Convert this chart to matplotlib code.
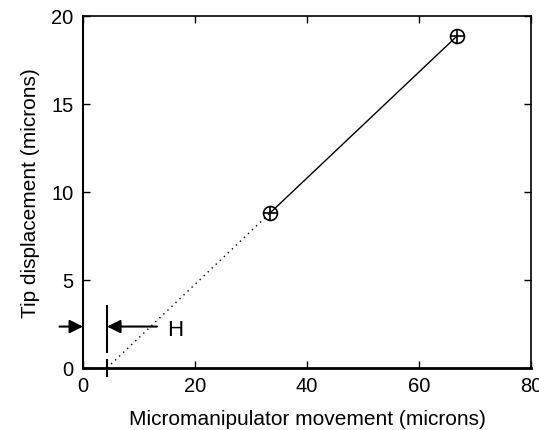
import matplotlib
matplotlib.use('Agg')
import matplotlib.pyplot as plt

plt.rcParams['font.family'] = ['Liberation Sans', 'DejaVu Sans']

# measured points (microns)
move = [33.4, 66.8]
tip = [8.8, 18.85]
# extrapolation back to zero tip displacement
x_zero = 4.3
h_level = 2.35

fig = plt.figure(figsize=(5.39, 4.31), dpi=100)
ax = fig.add_axes([0.154, 0.144, 0.831, 0.817])

ax.plot([x_zero, move[0]], [0, tip[0]], color='black', linestyle=(0, (1, 3)), linewidth=1)
ax.plot(move, tip, color='black', linewidth=1)
ax.plot(move, tip, 'o', markersize=10, markerfacecolor='none', markeredgecolor='black', markeredgewidth=1.2)
ax.plot(move, tip, '+', markersize=10, color='black', markeredgewidth=1.2)

# H marker
ax.plot([x_zero, x_zero], [0.9, 3.5], color='black', linewidth=1.5)
ax.plot([x_zero, x_zero], [-0.45, 0.45], color='black', linewidth=1.5, clip_on=False)
ax.annotate('', xy=(0, h_level), xytext=(-4.2, h_level), annotation_clip=False,
            arrowprops=dict(arrowstyle='-|>', color='black', lw=1.5, mutation_scale=20, shrinkA=0, shrinkB=0))
ax.annotate('', xy=(x_zero, h_level), xytext=(13.2, h_level), annotation_clip=False,
            arrowprops=dict(arrowstyle='-|>', color='black', lw=1.5, mutation_scale=20, shrinkA=0, shrinkB=0))
ax.text(15.0, h_level - 0.15, 'H', fontsize=16, va='center', ha='left')

ax.set_xlim(0, 80)
ax.set_ylim(0, 20)
ax.set_xticks([0, 20, 40, 60, 80])
ax.set_yticks([0, 5, 10, 15, 20])
ax.tick_params(direction='in', top=True, right=True, labelsize=14.5, length=5, width=1)
ax.tick_params(axis='x', pad=6)
ax.tick_params(axis='y', pad=7)
for s in ax.spines.values():
    s.set_linewidth(1.2)
ax.spines['bottom'].set_linewidth(2)
ax.spines['left'].set_linewidth(1.5)

ax.set_xlabel('Micromanipulator movement (microns)', fontsize=15, labelpad=10)
ax.set_ylabel('Tip displacement (microns)', fontsize=15, labelpad=8)

fig.savefig('out.png', dpi=100)
